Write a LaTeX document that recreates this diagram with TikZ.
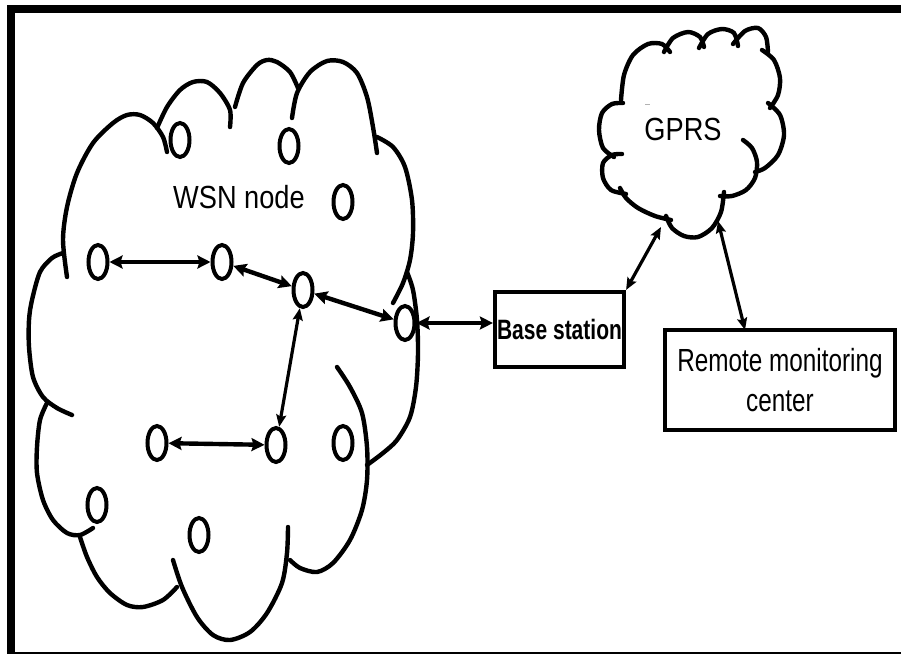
\documentclass[tikz,border=0pt]{standalone}
\usepackage{fontspec}
\setmainfont{Liberation Sans}
\newfontfamily\cloudfont[FakeStretch=0.85]{Liberation Sans}
\newfontfamily\boxfont[FakeStretch=0.76]{Liberation Sans}
\newfontfamily\basefont[FakeStretch=0.75]{Liberation Sans}
\usetikzlibrary{arrows.meta, shapes.geometric}

\tikzset{
  sensor/.style={draw, fill=white, line width=4pt, ellipse, inner sep=0pt,
    minimum width=19pt, minimum height=34pt},
  cloudline/.style={line width=4.4pt, line cap=round, line join=round},
  thicklink/.style={line width=4.4pt,
    {Stealth[length=13pt,width=13pt,inset=2pt]}-{Stealth[length=13pt,width=13pt,inset=2pt]}},
  thinlink/.style={line width=3.2pt,
    {Stealth[length=12pt,width=10pt,inset=2pt]}-{Stealth[length=12pt,width=10pt,inset=2pt]}},
  boxed/.style={draw, line width=4.2pt, inner sep=0pt, align=center},
}

\begin{document}
\begin{tikzpicture}[x=1pt, y=-1pt]
\useasboundingbox (0,0) rectangle (901,654);

% frame
\fill[black] (7,5) rectangle (901,13);
\fill[black] (7,5) rectangle (15,654);
\fill[black] (7,652) rectangle (901,654);

% sensor field cloud
\begin{scope}[cloudline]
\draw plot[smooth] coordinates {(67,277) (63,240) (67,207) (77,173) (93,143) (113,123) (127,115) (140,115) (153,123) (163,137) (167,152)};
\draw plot[smooth] coordinates {(157,128) (167,107) (180,90) (193,82) (207,82) (220,93) (230,110) (230,127)};
\draw plot[smooth] coordinates {(235,107) (243,83) (257,65) (267,60) (277,62) (290,72) (298,88)};
\draw plot[smooth] coordinates {(292,118) (297,93) (310,72) (327,61) (343,62) (357,73) (367,97) (373,127) (377,153)};
\draw plot[smooth] coordinates {(377,137) (393,147) (405,167) (412,200) (413,233) (410,260) (403,283) (393,303)};
\draw plot[smooth] coordinates {(407,272) (413,290) (417,320) (418,353) (416,387) (410,417) (397,440) (383,453) (367,465)};
\draw plot[smooth] coordinates {(337,367) (350,387) (362,413) (367,447) (367,480) (362,510) (350,540) (333,563) (317,572) (300,568) (290,560)};
\draw plot[smooth] coordinates {(288,527) (287,553) (282,583) (267,613) (250,632) (230,640) (213,635) (197,617) (182,587) (173,560)};
\draw plot[smooth] coordinates {(177,587) (163,600) (143,607) (127,605) (110,593) (97,577) (87,557) (80,537)};
\draw plot[smooth] coordinates {(93,528) (80,535) (67,533) (53,520) (43,500) (37,473) (37,447) (40,420) (47,403)};
\draw plot[smooth] coordinates {(72,415) (57,408) (43,397) (33,377) (29,347) (29,320) (32,300) (40,272) (52,258) (63,253)};
\end{scope}

% GPRS cloud
\begin{scope}[cloudline]
\draw plot[smooth] coordinates {(621,100) (624,75) (633,55) (648,44) (662,44) (670,52)};
\draw plot[smooth] coordinates {(664,52) (673,38) (688,32) (700,37) (704,47)};
\draw plot[smooth] coordinates {(699,48) (708,34) (722,29) (734,33) (738,46)};
\draw plot[smooth] coordinates {(733,44) (745,31) (758,28) (766,37) (768,52)};
\draw plot[smooth] coordinates {(762,50) (774,60) (780,78) (778,95) (770,108)};
\draw plot[smooth] coordinates {(768,103) (780,115) (784,135) (778,155) (765,168) (755,172)};
\draw plot[smooth] coordinates {(743,140) (752,148) (757,162) (755,178) (746,190) (732,196) (720,196)};
\draw plot[smooth] coordinates {(724,192) (721,212) (712,228) (698,237) (684,236) (672,228) (666,216)};
\draw plot[smooth] coordinates {(671,220) (655,216) (638,208) (626,198) (620,188)};
\draw plot[smooth] coordinates {(626,194) (611,190) (603,178) (603,163) (612,155) (622,154)};
\draw plot[smooth] coordinates {(614,157) (603,148) (599,130) (602,113) (612,104) (623,103)};
\end{scope}
\draw[gray!60, line width=1pt] (645,104) -- (650,104);

% labels inside the clouds
\node[font=\cloudfont\fontsize{32}{38}\selectfont, anchor=base] (wsnlabel) at (239,208) {WSN node};
\node[font=\cloudfont\fontsize{32}{38}\selectfont, anchor=base] (gprslabel) at (683,140) {GPRS};

% sensor nodes
\node[sensor] (n1) at (180,140) {};
\node[sensor] (n2) at (289,146) {};
\node[sensor] (n3) at (343,202) {};
\node[sensor] (d) at (98,262) {};
\node[sensor] (e) at (222,262) {};
\node[sensor] (f) at (303,290) {};
\node[sensor] (g) at (405,323) {};
\node[sensor] (h) at (157,443) {};
\node[sensor] (i) at (276,445) {};
\node[sensor] (j) at (343,443) {};
\node[sensor] (k) at (97,505) {};
\node[sensor] (l) at (199,535) {};

% boxes
\node[boxed, minimum width=129pt, minimum height=75pt,
      font=\basefont\bfseries\fontsize{28}{34}\selectfont] (bs) at (559.5,329.5) {Base station};
\node[boxed, minimum width=230pt, minimum height=100pt,
      font=\boxfont\fontsize{32}{40}\selectfont] (rmc) at (780,380) {Remote monitoring\\center};

% connection points on the GPRS cloud
\coordinate (gprsA) at (661,227);
\coordinate (gprsB) at (718,221);
\coordinate (rmcTop) at (745,330);

% links
\draw[thicklink] (d) -- (e);
\draw[thicklink] (e) -- (f);
\draw[thicklink] (f) -- (g);
\draw[thinlink] (f) -- (i);
\draw[thicklink] (h) -- (i);
\draw[thicklink] (g) -- (g -| bs.west);
\draw[thinlink] (bs.north east) -- (gprsA);
\draw[thinlink] (gprsB) -- (rmcTop);
\end{tikzpicture}
\end{document}
